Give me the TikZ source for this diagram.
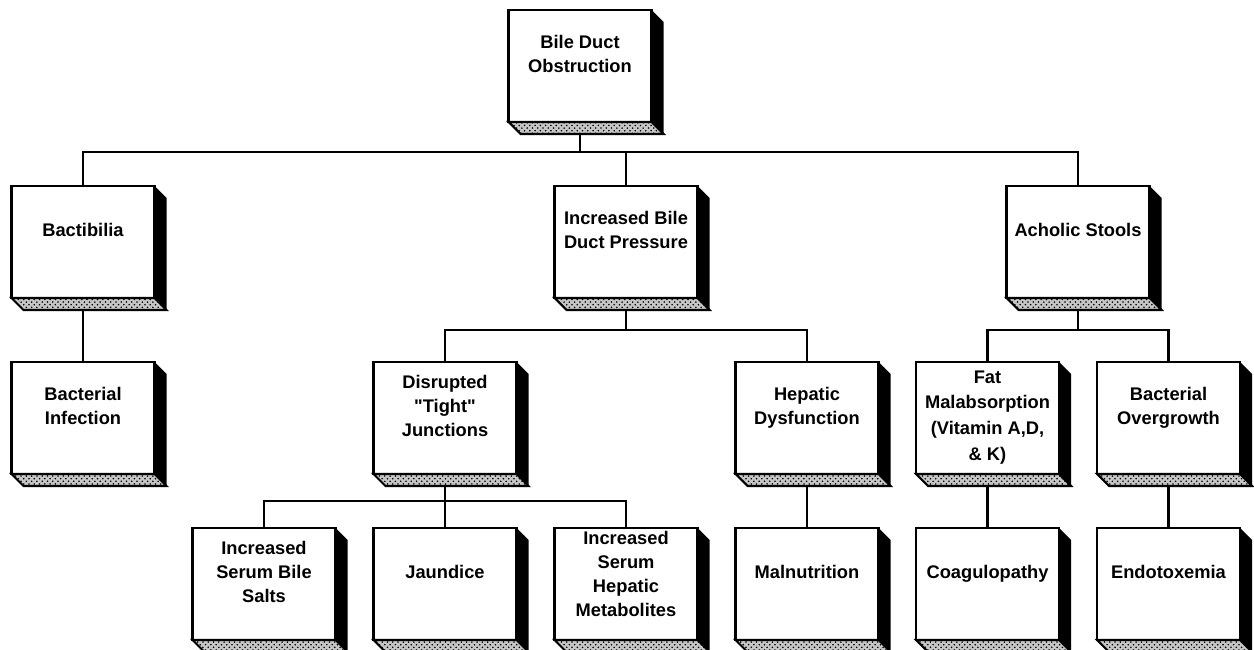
\documentclass[tikz,border=0pt]{standalone}
\usepackage{fontspec}
\setmainfont{Liberation Sans}[Ligatures=TeXOff]
\usetikzlibrary{positioning}
\usetikzlibrary{patterns}

\begin{document}
\begin{tikzpicture}[node distance=3.52cm and 3.62cm,on grid,line width=1.2pt,
	box/.style={draw,fill=white,outer sep=0pt,inner sep=1pt,minimum width=2.86cm,minimum height=2.24cm,align=center,text depth=0.5cm,font=\fontsize{10.4}{13.6}\selectfont\bfseries}]
	\useasboundingbox (0,0) rectangle (25.08,-13);

	\node[box]	(bact)	at (1.66,-4.84) {Bactibilia};
	\node[above right=3.52cm and 9.94cm of bact, box]	(obs) {Bile Duct\\Obstruction};
	\node[right=10.86cm of bact, box]	(ibdp) {Increased Bile\\Duct Pressure};
	\node[right=9.04cm of ibdp, box]	(acst) {Acholic Stools};

	\node[below=of bact, box]	(bacinf) {Bacterial\\Infection};
	\node[below left=of ibdp, box]	(dtj) {Disrupted\\"Tight"\\Junctions};
	\node[below right=of ibdp, box]	(hdys) {Hepatic\\Dysfunction};
	\node[below left=3.52cm and 1.81cm of acst, box, text depth=0.1cm, font=\fontsize{10.4}{14.6}\selectfont\bfseries]	(fatm) {Fat\\Malabsorption\\(Vitamin A,D,\\\& K)};
	\node[below right=3.52cm and 1.81cm of acst, box]	(bovg) {Bacterial\\Overgrowth};

	\node[below left=3.32cm and 3.62cm of dtj, box]	(ibs) {Increased\\Serum Bile\\Salts};
	\node[below=3.32cm of dtj, box]	(jaun) {Jaundice};
	\node[below right=3.32cm and 3.62cm of dtj, box, text depth=0.4cm]	(ishm) {Increased\\Serum\\Hepatic\\Metabolites};
	\node[below=3.32cm of hdys, box]	(maln) {Malnutrition};
	\node[below=3.32cm of fatm, box]	(coag) {Coagulopathy};
	\node[below=3.32cm of bovg, box]	(endo) {Endotoxemia};

	% raised sides of the boxes
	\foreach \n in {obs,bact,ibdp,acst,bacinf,dtj,hdys,fatm,bovg,ibs,jaun,ishm,maln,coag,endo} {
		\fill (\n.north east) -- ++(0.24,-0.24) -- ([shift={(0.24,-0.24)}]\n.south east) -- (\n.south east) -- cycle;
		\draw[preaction={fill=gray!45}, pattern=crosshatch dots] (\n.south west) -- ++(0.24,-0.24) -- ([shift={(0.24,-0.24)}]\n.south east) -- (\n.south east) -- cycle;
	}

	% tree lines
	\draw ([yshift=-0.24cm]obs.south) -- ++(0,-0.36) coordinate (bus1) -| (bact.north);
	\draw (bus1) -| (ibdp.north);
	\draw (bus1) -| (acst.north);

	\draw ([yshift=-0.24cm]bact.south) -- (bacinf.north);
	\draw ([yshift=-0.24cm]ibdp.south) -- ++(0,-0.4) coordinate (bus2) -| (dtj.north);
	\draw (bus2) -| (hdys.north);
	\draw ([yshift=-0.24cm]acst.south) -- ++(0,-0.4) coordinate (bus3) -| (fatm.north);
	\draw (bus3) -| (bovg.north);

	\draw ([yshift=-0.24cm]dtj.south) -- ++(0,-0.3) coordinate (bus4) -| (ibs.north);
	\draw (bus4) -| (jaun.north);
	\draw (bus4) -| (ishm.north);
	\draw ([yshift=-0.24cm]hdys.south) -- (maln.north);
	\draw ([yshift=-0.24cm]fatm.south) -- (coag.north);
	\draw ([yshift=-0.24cm]bovg.south) -- (endo.north);
\end{tikzpicture}
\end{document}
